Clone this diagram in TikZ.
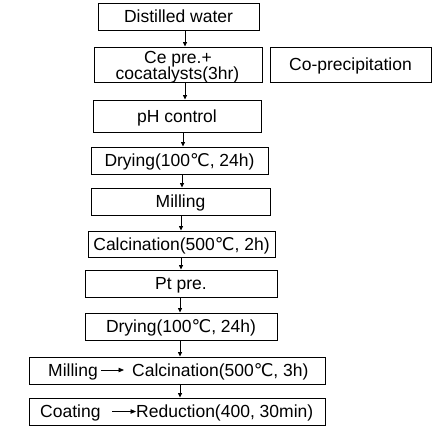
\documentclass[tikz,border=0pt]{standalone}
\usepackage{fontspec}
\setmainfont{Liberation Sans}
\newfontfamily\dvfont{DejaVu Sans}
\newcommand\degcel{{\dvfont ℃}}
\usetikzlibrary{arrows.meta}
\begin{document}
\begin{tikzpicture}[x=1pt,y=1pt,
  box/.style={draw, line width=1pt, inner sep=0pt, minimum height=27pt},
  txt/.style={inner sep=0pt, anchor=base, font=\fontsize{17.5}{20}\selectfont},
  arr/.style={line width=0.8pt, -{Triangle[length=4.5pt,width=4pt]}},
  tarr/.style={line width=0.8pt, -{Triangle[length=5.5pt,width=4.5pt]}}]
\useasboundingbox (0,0) rectangle (435,-426);
% boxes
\node[box, minimum width=161pt] (B1) at (178.5,-16.5) {};
\node[box, minimum width=168pt, minimum height=35pt] (B2) at (178,-64.5) {};
\node[box, minimum width=161pt, minimum height=35pt] (CP) at (350.5,-64.5) {};
\node[box, minimum width=168pt, minimum height=32pt] (B3) at (177,-116) {};
\node[box, minimum width=177pt] (B4) at (179.5,-160.5) {};
\node[box, minimum width=179pt] (B5) at (180.5,-201.5) {};
\node[box, minimum width=187pt, minimum height=26pt] (B6) at (181.5,-244) {};
\node[box, minimum width=192pt] (B7) at (181,-283.5) {};
\node[box, minimum width=192pt] (B8) at (181,-326.5) {};
\node[box, minimum width=296pt] (B9) at (177,-370.5) {};
\node[box, minimum width=296pt] (B10) at (177,-411.5) {};
% flow arrows
\draw[arr] ([xshift=6.5pt]B1.south) -- ([xshift=7pt]B2.north);
\draw[arr] ([xshift=7pt]B2.south) -- ([xshift=8pt]B3.north);
\draw[arr] ([xshift=6pt]B3.south) -- ([xshift=3.5pt]B4.north);
\draw[arr] ([xshift=2.5pt]B4.south) -- ([xshift=1.5pt]B5.north);
\draw[arr] ([xshift=0.5pt]B5.south) -- ([xshift=-0.5pt]B6.north);
\draw[arr] ([xshift=-0.5pt]B6.south) -- ([xshift=0pt]B7.north);
\draw[arr] ([xshift=-1pt]B7.south) -- ([xshift=-1pt]B8.north);
\draw[arr] ([xshift=-1pt]B8.south) -- ([xshift=3pt]B9.north);
\draw[arr] ([xshift=3pt]B9.south) -- ([xshift=3pt]B10.north);
% inline arrows (drawn between named text anchors)
\coordinate (M9) at (101,-370);
\coordinate (C9) at (124,-370);
\coordinate (M10) at (112,-411.5);
\coordinate (C10) at (136,-411.5);
\draw[tarr] (M9) -- (C9);
\draw[tarr] (M10) -- (C10);
% texts
\node[txt] (T1) at (178.5,-22.5) {Distilled water};
\node[txt] (T2a) at (178,-63) {Ce pre.+};
\node[txt] (T2b) at (177.5,-79.5) {cocatalysts(3hr)};
\node[txt] (TCP) at (350.5,-70.5) {Co-precipitation};
\node[txt] (T3) at (177,-122) {pH control};
\node[txt] (T4) at (179.5,-166.5) {Drying(100\degcel, 24h)};
\node[txt] (T5) at (180.5,-207.5) {Milling};
\node[txt] (T6) at (181.5,-250) {Calcination(500\degcel, 2h)};
\node[txt] (T7) at (181,-289.5) {Pt pre.};
\node[txt] (T8) at (181,-332.5) {Drying(100\degcel, 24h)};
\node[txt, anchor=base west] (T9a) at (48,-376.5) {Milling};
\node[txt, anchor=base west] (T9b) at (132,-376.5) {Calcination(500\degcel, 3h)};
\node[txt, anchor=base west] (T10a) at (40,-417.5) {Coating};
\node[txt, anchor=base west] (T10b) at (136,-417.5) {Reduction(400, 30min)};
\end{tikzpicture}
\end{document}
